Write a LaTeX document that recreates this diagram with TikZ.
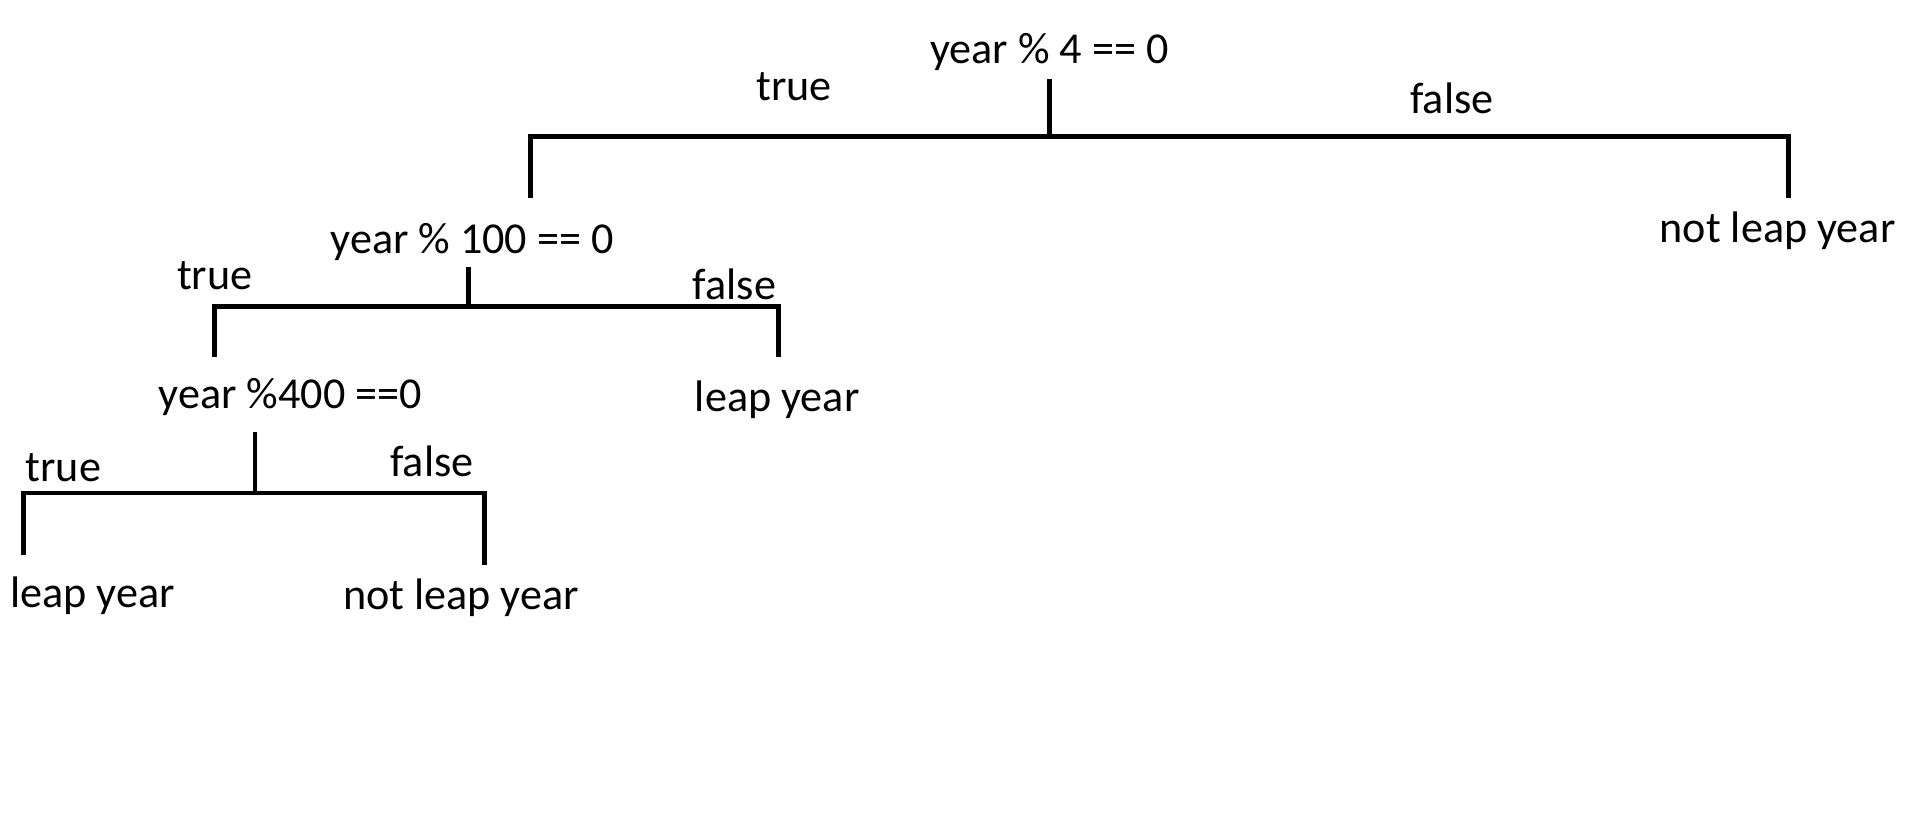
\documentclass[tikz,border=0pt]{standalone}
\usepackage{fontspec}
\setmainfont{Carlito}
\tikzset{
  txt/.style={inner sep=0pt, font=\fontsize{10.3}{12}\selectfont},
  branch/.style={line width=1.1pt, line join=miter},
}
\begin{document}
\begin{tikzpicture}
    \useasboundingbox (0,0) rectangle (15.68,-6.85);

    % Test year % 4
    \node[txt] (mod4) at (8.60,-0.43) {year \% 4 == 0};
    \node[txt] (mod4t) at (6.51,-0.71) {true};
    \node[txt] (mod4f) at (11.90,-0.81) {false};
    \node[txt] (notleapA) at (14.57,-1.89) {not leap year};
    \coordinate (mod4top) at (8.60,-0.65);
    \coordinate (mod4mid) at (8.60,-1.12);
    \coordinate (mod4l) at (4.35,-1.12);
    \coordinate (mod4r) at (14.66,-1.12);
    \coordinate (mod4le) at (4.35,-1.62);
    \coordinate (mod4re) at (14.66,-1.62);
    \draw[branch] (mod4top) -- (mod4mid);
    \draw[branch] (mod4le) -- (mod4l) -- (mod4r) -- (mod4re);

    % Test year % 100
    \node[txt] (mod100) at (3.87,-1.98) {year \% 100 == 0};
    \node[txt] (mod100t) at (1.76,-2.26) {true};
    \node[txt] (mod100f) at (6.02,-2.33) {false};
    \node[txt] (leapA) at (6.37,-3.28) {leap year};
    \coordinate (mod100top) at (3.84,-2.19);
    \coordinate (mod100mid) at (3.84,-2.51);
    \coordinate (mod100l) at (1.76,-2.51);
    \coordinate (mod100r) at (6.38,-2.51);
    \coordinate (mod100le) at (1.76,-2.93);
    \coordinate (mod100re) at (6.38,-2.93);
    \draw[branch] (mod100top) -- (mod100mid);
    \draw[branch] (mod100le) -- (mod100l) -- (mod100r) -- (mod100re);

    % Test year % 400
    \node[txt] (mod400) at (2.38,-3.25) {year \%400 ==0};
    \node[txt] (mod400t) at (0.52,-3.83) {true};
    \node[txt] (mod400f) at (3.54,-3.78) {false};
    \node[txt] (leapB) at (0.76,-4.88) {leap year};
    \node[txt] (notleapB) at (3.78,-4.90) {not leap year};
    \coordinate (mod400top) at (2.09,-3.54);
    \coordinate (mod400mid) at (2.09,-4.04);
    \coordinate (mod400l) at (0.19,-4.04);
    \coordinate (mod400r) at (3.97,-4.04);
    \coordinate (mod400le) at (0.19,-4.55);
    \coordinate (mod400re) at (3.97,-4.63);
    \draw[branch] (mod400top) -- (mod400mid);
    \draw[branch] (mod400le) -- (mod400l) -- (mod400r) -- (mod400re);
\end{tikzpicture}
\end{document}
